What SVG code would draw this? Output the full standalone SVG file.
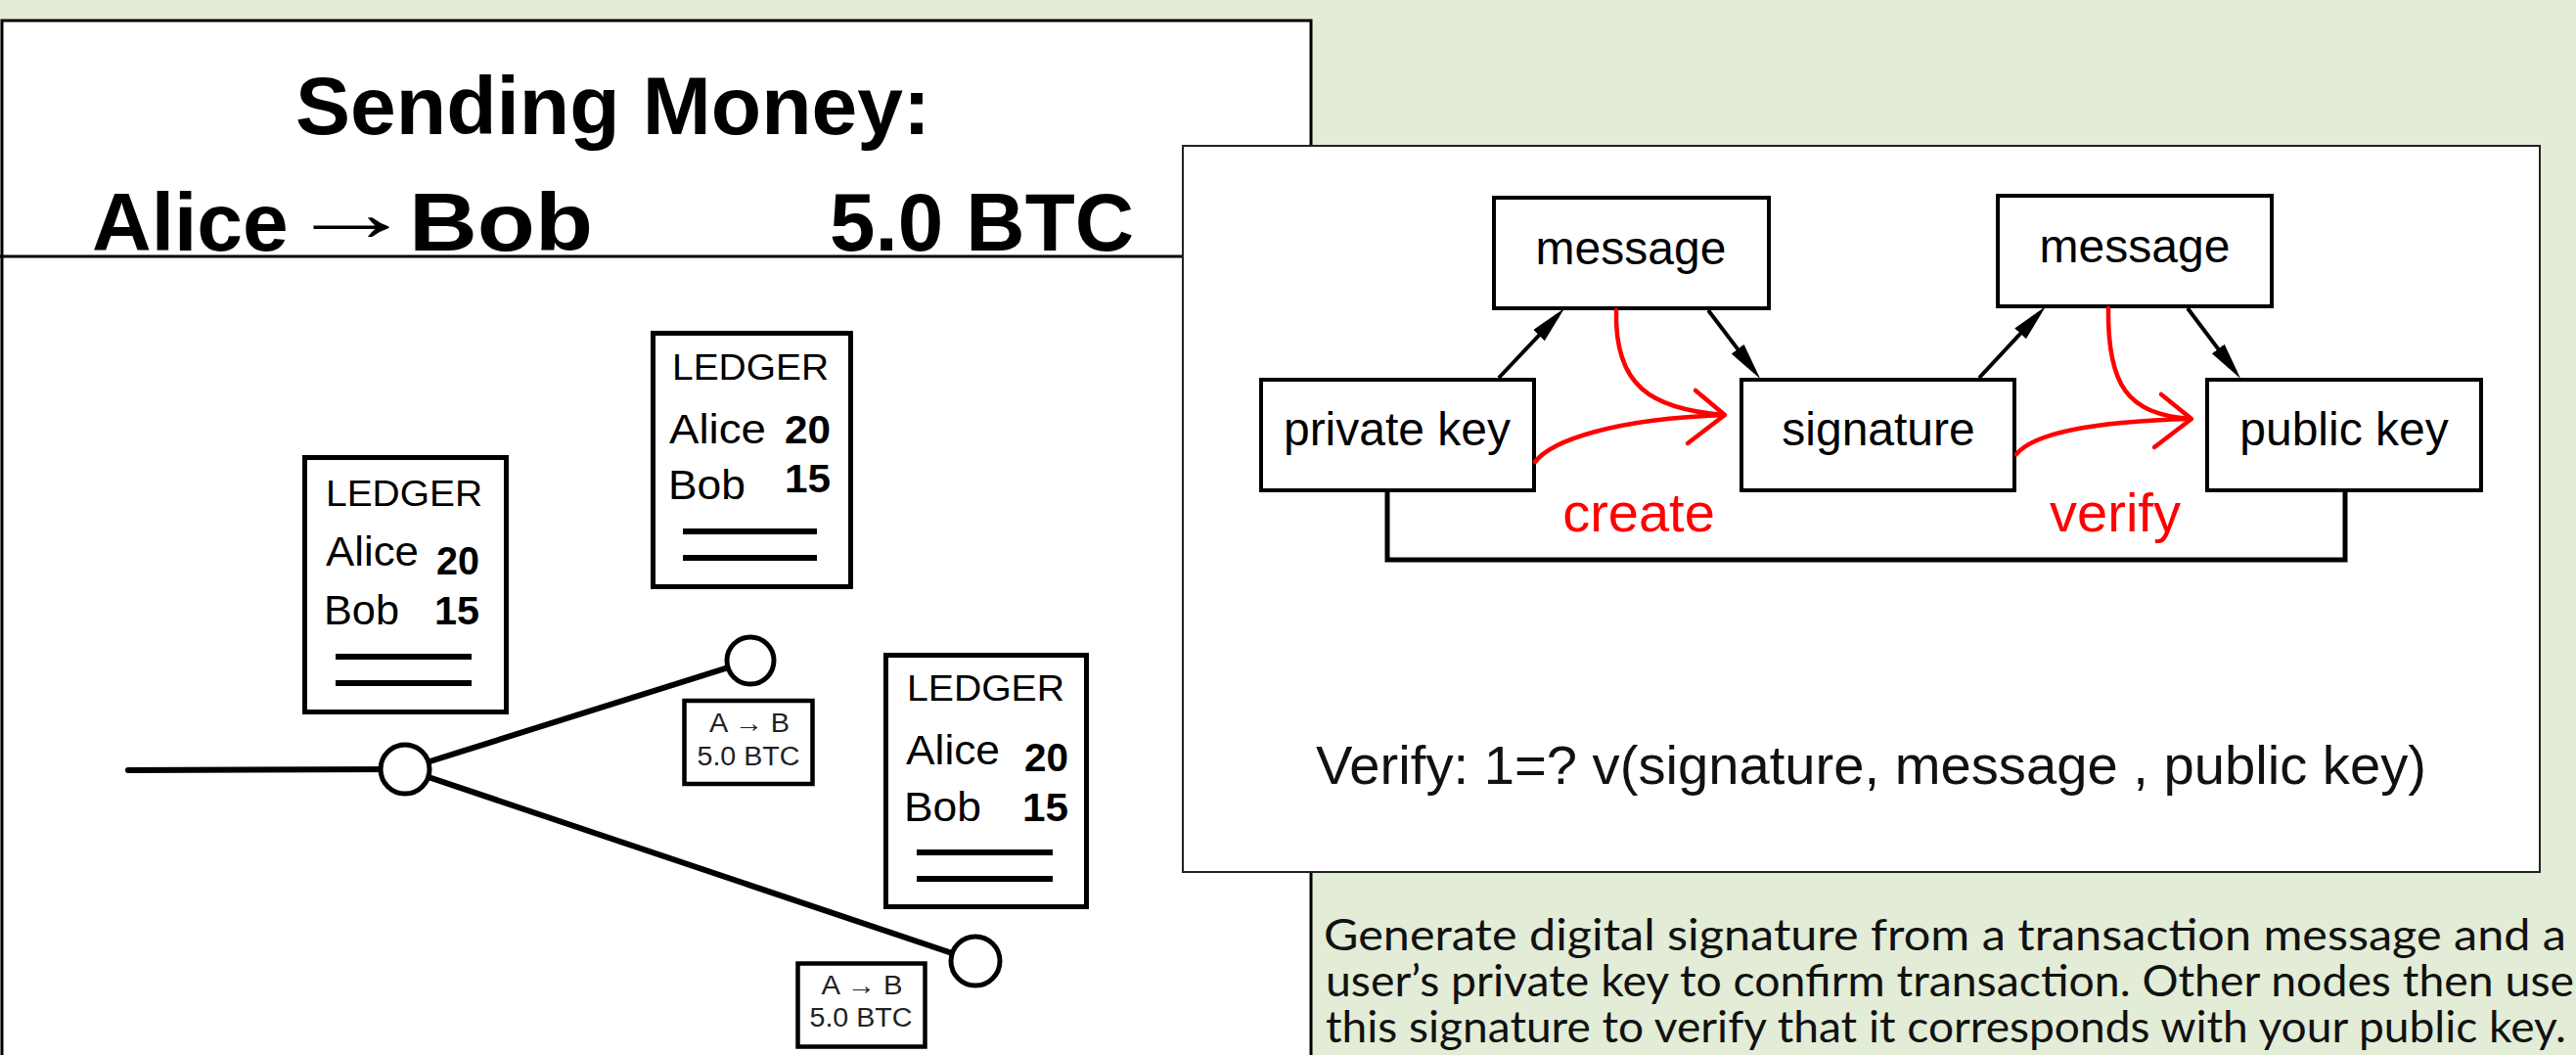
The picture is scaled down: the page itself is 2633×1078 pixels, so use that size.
<svg xmlns="http://www.w3.org/2000/svg" width="2633" height="1078" viewBox="0 0 2633 1078">
  <style>
    .sans { font-family: "Liberation Sans", Arial, sans-serif; }
    .bold { font-weight: bold; }
    .ledger-frame { fill: #ffffff; stroke: #000000; stroke-width: 5; }
    .ledger-rule { stroke: #000000; stroke-width: 6; }
    .ledger-title { font-size: 36px; }
    .ledger-name { font-size: 42px; }
    .ledger-num { font-size: 40px; font-weight: bold; }
    .chain { stroke: #000000; stroke-width: 6; stroke-linecap: round; fill: none; }
    .block { fill: #ffffff; stroke: #000000; stroke-width: 5; }
    .tx-frame { fill: #ffffff; stroke: #000000; stroke-width: 4.5; }
    .tx-text { font-size: 27px; fill: #222222; }
    .key-box { fill: #ffffff; stroke: #000000; stroke-width: 4; }
    .key-label { font-size: 48px; }
    .flow { stroke: #000000; stroke-width: 4; fill: none; marker-end: url(#head); }
    .loop { stroke: #000000; stroke-width: 5; fill: none; }
    .red { stroke: #ff0000; stroke-width: 4.5; fill: none; stroke-linecap: round; stroke-linejoin: round; }
    .red-label { font-size: 56px; fill: #ff0000; }
    .note { font-family: Lato, "Open Sans", sans-serif; font-size: 44px; fill: #111111; }
  </style>
  <defs>
    <marker id="head" markerUnits="userSpaceOnUse" markerWidth="40" markerHeight="18" refX="28" refY="8" orient="auto">
      <path d="M0,0 L38,8 L0,16 z" fill="#000000"/>
    </marker>
  </defs>

  <!-- slide background -->
  <rect x="0" y="0" width="2633" height="1078" fill="#e2ecd6"/>

  <!-- left panel: title strip and ledger fork -->
  <g id="fork-panel">
    <rect x="2" y="21" width="1338" height="1075" fill="#ffffff" stroke="#000000" stroke-width="3"/>
    <line x1="0" y1="262" x2="1340" y2="262" stroke="#000000" stroke-width="3"/>
  </g>

  <g id="title" class="sans bold">
    <text x="302" y="137" font-size="84" textLength="649" lengthAdjust="spacingAndGlyphs">Sending Money:</text>
    <text x="94" y="256" font-size="84">Alice</text>
    <text transform="translate(294,246) scale(1.55,1)" x="0" y="0" font-size="84" font-weight="normal">→</text>
    <text x="418" y="256" font-size="84" textLength="188" lengthAdjust="spacingAndGlyphs">Bob</text>
    <text x="848" y="256" font-size="84" textLength="311" lengthAdjust="spacingAndGlyphs">5.0 BTC</text>
  </g>

  <!-- chain of blocks -->
  <g id="chain-edges">
    <line class="chain" x1="131" y1="787" x2="414" y2="786"/>
    <line class="chain" x1="414" y1="786" x2="767" y2="675"/>
    <line class="chain" x1="414" y1="786" x2="997" y2="982"/>
  </g>
  <g id="block-root"><circle class="block" cx="414" cy="786" r="25"/></g>
  <g id="block-upper"><circle class="block" cx="767" cy="675" r="24"/></g>
  <g id="block-lower"><circle class="block" cx="997" cy="982" r="25"/></g>

  <g id="ledger-root" class="sans">
    <rect class="ledger-frame" x="311.5" y="467.5" width="206" height="260"/>
    <text class="ledger-title" x="333" y="517" textLength="160" lengthAdjust="spacingAndGlyphs">LEDGER</text>
    <text class="ledger-name" x="333" y="578" textLength="95" lengthAdjust="spacingAndGlyphs">Alice</text>
    <text class="ledger-num" x="446" y="587" textLength="44" lengthAdjust="spacingAndGlyphs">20</text>
    <text class="ledger-name" x="331" y="638" textLength="77" lengthAdjust="spacingAndGlyphs">Bob</text>
    <text class="ledger-num" x="444" y="638" textLength="46" lengthAdjust="spacingAndGlyphs">15</text>
    <line class="ledger-rule" x1="343" y1="671" x2="482" y2="671"/>
    <line class="ledger-rule" x1="343" y1="698" x2="482" y2="698"/>
  </g>

  <g id="ledger-upper" class="sans">
    <rect class="ledger-frame" x="667.5" y="340.5" width="202" height="259"/>
    <text class="ledger-title" x="687" y="388" textLength="160" lengthAdjust="spacingAndGlyphs">LEDGER</text>
    <text class="ledger-name" x="684" y="453" textLength="99" lengthAdjust="spacingAndGlyphs">Alice</text>
    <text class="ledger-num" x="802" y="453" textLength="47" lengthAdjust="spacingAndGlyphs">20</text>
    <text class="ledger-name" x="683" y="510" textLength="79" lengthAdjust="spacingAndGlyphs">Bob</text>
    <text class="ledger-num" x="802" y="503" textLength="47" lengthAdjust="spacingAndGlyphs">15</text>
    <line class="ledger-rule" x1="698" y1="543" x2="835" y2="543"/>
    <line class="ledger-rule" x1="698" y1="570" x2="835" y2="570"/>
  </g>

  <g id="ledger-lower" class="sans">
    <rect class="ledger-frame" x="905.5" y="669.5" width="205" height="257"/>
    <text class="ledger-title" x="927" y="716" textLength="161" lengthAdjust="spacingAndGlyphs">LEDGER</text>
    <text class="ledger-name" x="926" y="781" textLength="96" lengthAdjust="spacingAndGlyphs">Alice</text>
    <text class="ledger-num" x="1047" y="788" textLength="45" lengthAdjust="spacingAndGlyphs">20</text>
    <text class="ledger-name" x="924" y="839" textLength="79" lengthAdjust="spacingAndGlyphs">Bob</text>
    <text class="ledger-num" x="1045" y="839" textLength="47" lengthAdjust="spacingAndGlyphs">15</text>
    <line class="ledger-rule" x1="937" y1="871" x2="1076" y2="871"/>
    <line class="ledger-rule" x1="937" y1="898" x2="1076" y2="898"/>
  </g>

  <g id="tx-upper" class="sans" text-anchor="middle">
    <rect class="tx-frame" x="699.5" y="716" width="131" height="85"/>
    <text class="tx-text" x="766" y="748" textLength="82" lengthAdjust="spacingAndGlyphs">A → B</text>
    <text class="tx-text" x="765" y="782" textLength="105" lengthAdjust="spacingAndGlyphs">5.0 BTC</text>
  </g>

  <g id="tx-lower" class="sans" text-anchor="middle">
    <rect class="tx-frame" x="815.5" y="984.5" width="130" height="85"/>
    <text class="tx-text" x="881" y="1016" textLength="83" lengthAdjust="spacingAndGlyphs">A → B</text>
    <text class="tx-text" x="880" y="1049" textLength="105" lengthAdjust="spacingAndGlyphs">5.0 BTC</text>
  </g>

  <!-- right panel: signature scheme -->
  <g id="signature-panel">
    <rect x="1209" y="149" width="1387" height="742" fill="#ffffff" stroke="#222222" stroke-width="2"/>
  </g>

  <g id="message-create" class="sans">
    <rect class="key-box" x="1527" y="202" width="281" height="113"/>
    <text class="key-label" x="1667" y="270" text-anchor="middle">message</text>
  </g>
  <g id="message-verify" class="sans">
    <rect class="key-box" x="2042" y="200" width="280" height="113"/>
    <text class="key-label" x="2182" y="268" text-anchor="middle">message</text>
  </g>
  <g id="private-key" class="sans">
    <rect class="key-box" x="1289" y="388" width="279" height="113"/>
    <text class="key-label" x="1428" y="455" text-anchor="middle">private key</text>
  </g>
  <g id="signature" class="sans">
    <rect class="key-box" x="1780" y="388" width="279" height="113"/>
    <text class="key-label" x="1920" y="455" text-anchor="middle">signature</text>
  </g>
  <g id="public-key" class="sans">
    <rect class="key-box" x="2256" y="388" width="280" height="113"/>
    <text class="key-label" x="2396" y="455" text-anchor="middle">public key</text>
  </g>

  <g id="connectors">
    <line class="flow" x1="1532" y1="386" x2="1592.2" y2="322.3"/>
    <line class="flow" x1="1746" y1="317" x2="1793.1" y2="379.0"/>
    <line class="flow" x1="2023" y1="386" x2="2084.2" y2="320.4"/>
    <line class="flow" x1="2236" y1="315" x2="2284.1" y2="378.9"/>
    <polyline class="loop" points="1418,503 1418,572 2397,572 2397,503"/>

    <!-- create -->
    <path class="red" d="M1652,317 C1650,395 1688,418 1762,424"/>
    <path class="red" d="M1569,472 C1586,450 1650,428 1762,424"/>
    <path class="red" d="M1733,399 L1763,424 L1725,453"/>
    <!-- verify -->
    <path class="red" d="M2155,315 C2154,395 2175,423 2239,428"/>
    <path class="red" d="M2061,464 C2078,444 2130,431 2239,428"/>
    <path class="red" d="M2209,403 L2240,428 L2202,457"/>
  </g>

  <g id="labels" class="sans">
    <text class="red-label" x="1675" y="543" text-anchor="middle">create</text>
    <text class="red-label" x="2162" y="543" text-anchor="middle">verify</text>
    <text x="1345" y="801" font-size="56" textLength="1135" lengthAdjust="spacingAndGlyphs" fill="#111111">Verify: 1=? v(signature, message , public key)</text>
  </g>

  <g id="caption" class="note">
    <text x="1353" y="971" textLength="1270" lengthAdjust="spacingAndGlyphs">Generate digital signature from a transaction message and a</text>
    <text x="1355" y="1018" textLength="1276" lengthAdjust="spacingAndGlyphs">user’s private key to confirm transaction. Other nodes then use</text>
    <text x="1355" y="1065" textLength="1268" lengthAdjust="spacingAndGlyphs">this signature to verify that it corresponds with your public key.</text>
  </g>
</svg>
